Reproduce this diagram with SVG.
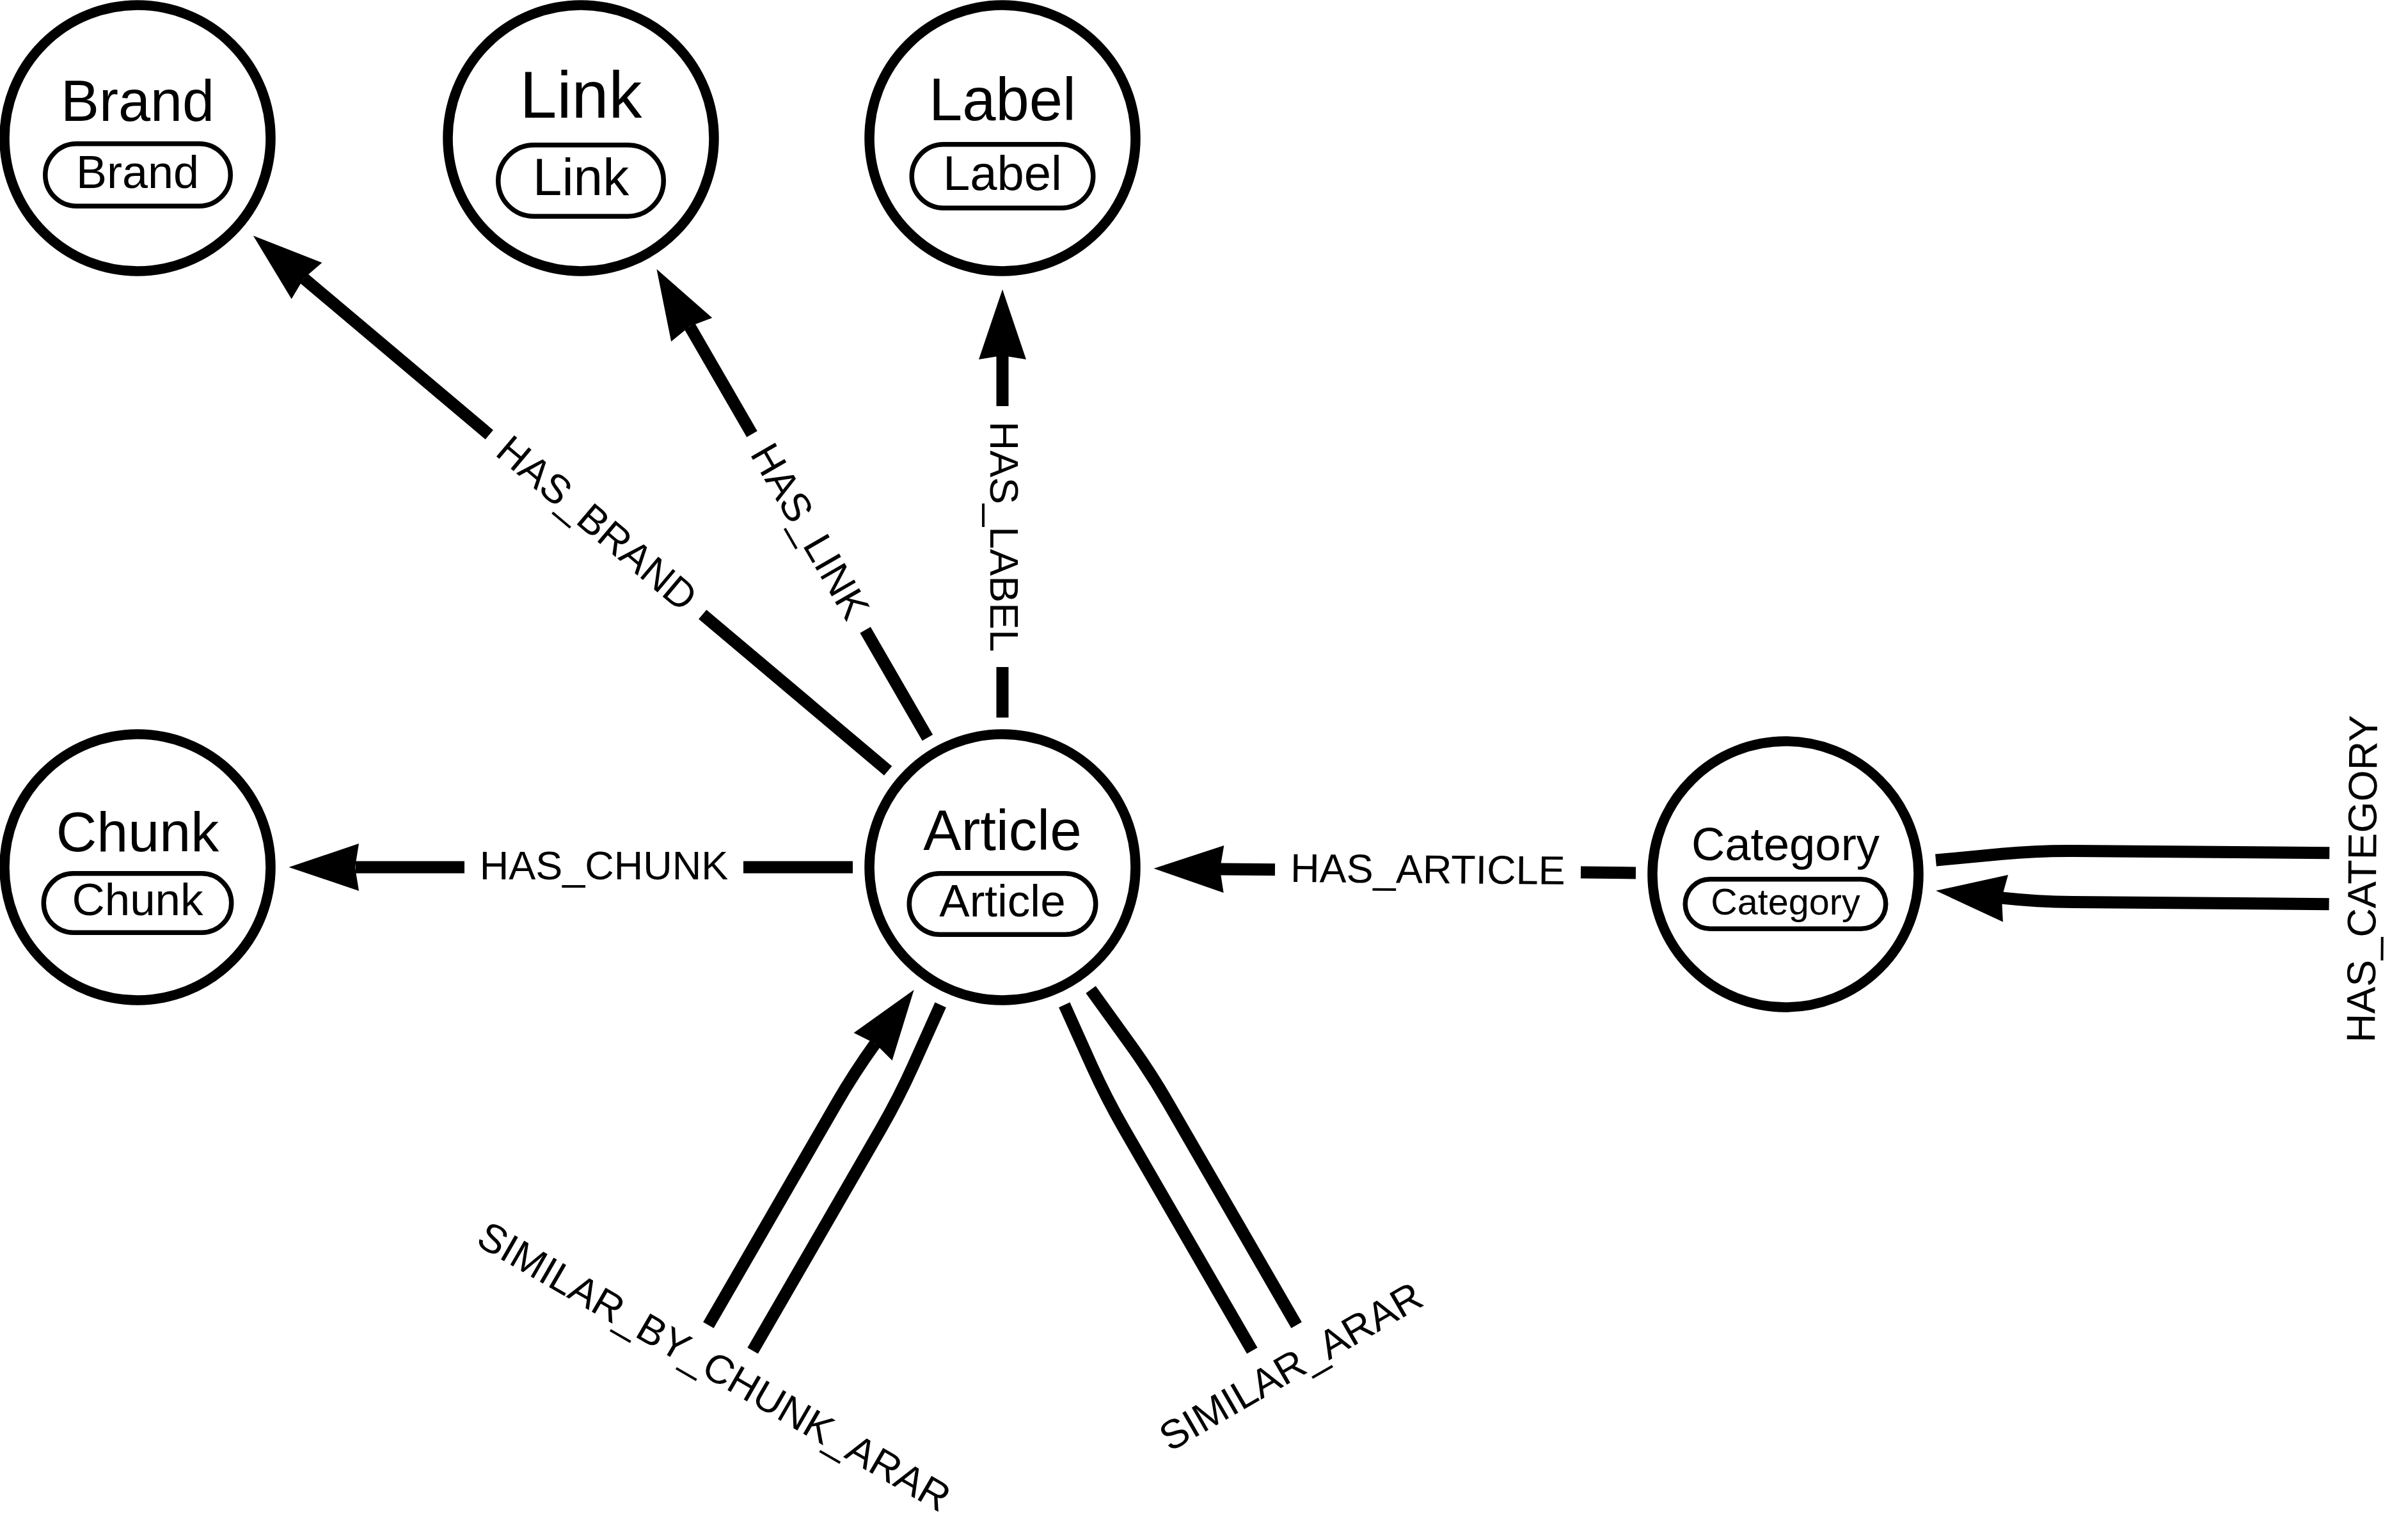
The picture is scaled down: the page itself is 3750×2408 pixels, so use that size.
<svg xmlns="http://www.w3.org/2000/svg" xmlns:xlink="http://www.w3.org/1999/xlink" width="3750" height="2408" viewBox="0 0 3750 2408">
<style>
.node circle{fill:#fff;stroke:#000;stroke-width:15.5}
.node rect{fill:#fff;stroke:#000;stroke-width:7.5}
text{font-family:"Liberation Sans",Arial,sans-serif;fill:#000;text-anchor:middle}
.edge{fill:none;stroke:#000;stroke-width:19;stroke-linecap:butt;stroke-linejoin:round}
.ah{fill:#000;stroke:none}
.el{font-size:63px}
</style>
<defs>
<path id="ah" d="M0,0 L-109.5,-37 L-103.5,0 L-109.5,37 Z"/>
</defs>
<rect x="0" y="0" width="3750" height="2408" fill="#fff"/>

<g id="connectors">
  <g id="e-has-brand">
    <path class="edge" d="M1388.1,1205.2 L1098.2,960.7 M764.8,679.7 L474.9,435.2"/>
    <use href="#ah" class="ah" transform="translate(395.8,368.5) rotate(-139.86)"/>
    <text class="el" transform="translate(931.5,820.2) rotate(40.14)" x="0" y="19">HAS_BRAND</text>
  </g>
  <g id="e-has-link">
    <path class="edge" d="M1449.9,1153.4 L1352.6,985.1 M1175.5,678.7 L1078.2,510.4"/>
    <use href="#ah" class="ah" transform="translate(1026.4,420.7) rotate(-120.03)"/>
    <text class="el" transform="translate(1264.05,831.9) rotate(59.97)" x="0" y="19">HAS_LINK</text>
  </g>
  <g id="e-has-label">
    <path class="edge" d="M1567,1122 L1567,1043 M1567,635 L1567,556"/>
    <use href="#ah" class="ah" transform="translate(1567,452.5) rotate(-90)"/>
    <text class="el" transform="translate(1567,839) rotate(90)" x="0" y="19">HAS_LABEL</text>
  </g>
  <g id="e-has-chunk">
    <path class="edge" d="M1333,1356 L1162,1356 M726,1356 L555.5,1356"/>
    <use href="#ah" class="ah" transform="translate(451.5,1356) rotate(180)"/>
    <text class="el" x="944" y="1375">HAS_CHUNK</text>
  </g>
  <g id="e-has-article">
    <path class="edge" d="M2557,1364.9 L2471,1364.1 M1993,1359.8 L1907,1359.05"/>
    <use href="#ah" class="ah" transform="translate(1803.5,1358.1) rotate(180.515)"/>
    <text class="el" transform="translate(2232,1362) rotate(0.515)" x="0" y="19">HAS_ARTICLE</text>
  </g>
  <g id="e-has-category" transform="translate(2791,1367) rotate(0.45)">
    <path class="edge" d="M234.8,-23.85 L338.3,-34.36 Q394,-40 450,-40 L850,-40"/>
    <path class="edge" d="M338.3,34.36 Q394,40 450,40 L850,40"/>
    <use href="#ah" class="ah" transform="translate(235.3,23.9) rotate(185.8)"/>
    <text class="el" transform="translate(903,0) rotate(-90)" x="0" y="20">HAS_CATEGORY</text>
  </g>
  <g id="e-similar-by-chunk-arar" transform="translate(1567,1356) rotate(120)">
    <path class="edge" d="M234.8,-23.85 L338.3,-34.36 Q394,-40 450,-40 L850,-40"/>
    <path class="edge" d="M338.3,34.36 Q394,40 450,40 L850,40"/>
    <use href="#ah" class="ah" transform="translate(235.3,23.9) rotate(185.8)"/>
    <text class="el" transform="translate(903,0) rotate(-90)" x="0" y="20">SIMILAR_BY_CHUNK_ARAR</text>
  </g>
  <g id="e-similar-arar" transform="translate(1567,1356) rotate(60)">
    <path class="edge" d="M234.8,-23.85 L338.3,-34.36 Q394,-40 450,-40 L850,-40"/>
    <path class="edge" d="M234.8,23.85 L338.3,34.36 Q394,40 450,40 L850,40"/>
    <text class="el" transform="translate(903,0) rotate(-90)" x="0" y="20">SIMILAR_ARAR</text>
  </g>
</g>

<g id="node-brand" class="node">
  <circle cx="215" cy="216" r="208"/>
  <text x="215" y="189" font-size="90">Brand</text>
  <rect x="70.75" y="224.75" width="289.5" height="97.5" rx="48.75"/>
  <text x="215" y="294" font-size="72">Brand</text>
</g>
<g id="node-link" class="node">
  <circle cx="908" cy="216" r="208"/>
  <text x="908" y="184" font-size="104">Link</text>
  <rect x="778.75" y="226.75" width="258.5" height="111.5" rx="55.75"/>
  <text x="908" y="305" font-size="82">Link</text>
</g>
<g id="node-label" class="node">
  <circle cx="1567" cy="216" r="208"/>
  <text x="1567" y="188" font-size="94">Label</text>
  <rect x="1425.25" y="225.75" width="283.5" height="99.5" rx="49.75"/>
  <text x="1567" y="297" font-size="76">Label</text>
</g>
<g id="node-chunk" class="node">
  <circle cx="215" cy="1356" r="208"/>
  <text x="215" y="1330.5" font-size="88">Chunk</text>
  <rect x="68.25" y="1365.75" width="293.5" height="92.5" rx="46.25"/>
  <text x="215" y="1431" font-size="71">Chunk</text>
</g>
<g id="node-article" class="node">
  <circle cx="1567" cy="1356" r="208"/>
  <text x="1567" y="1328.6" font-size="89">Article</text>
  <rect x="1421.25" y="1365.75" width="291.5" height="95.5" rx="47.75"/>
  <text x="1567" y="1433" font-size="71">Article</text>
</g>
<g id="node-category" class="node">
  <circle cx="2791" cy="1367" r="208"/>
  <text x="2791" y="1345" font-size="72.5">Category</text>
  <rect x="2634.25" y="1374.75" width="313.5" height="77.5" rx="38.75"/>
  <text x="2791" y="1430" font-size="57.5">Category</text>
</g>
</svg>
